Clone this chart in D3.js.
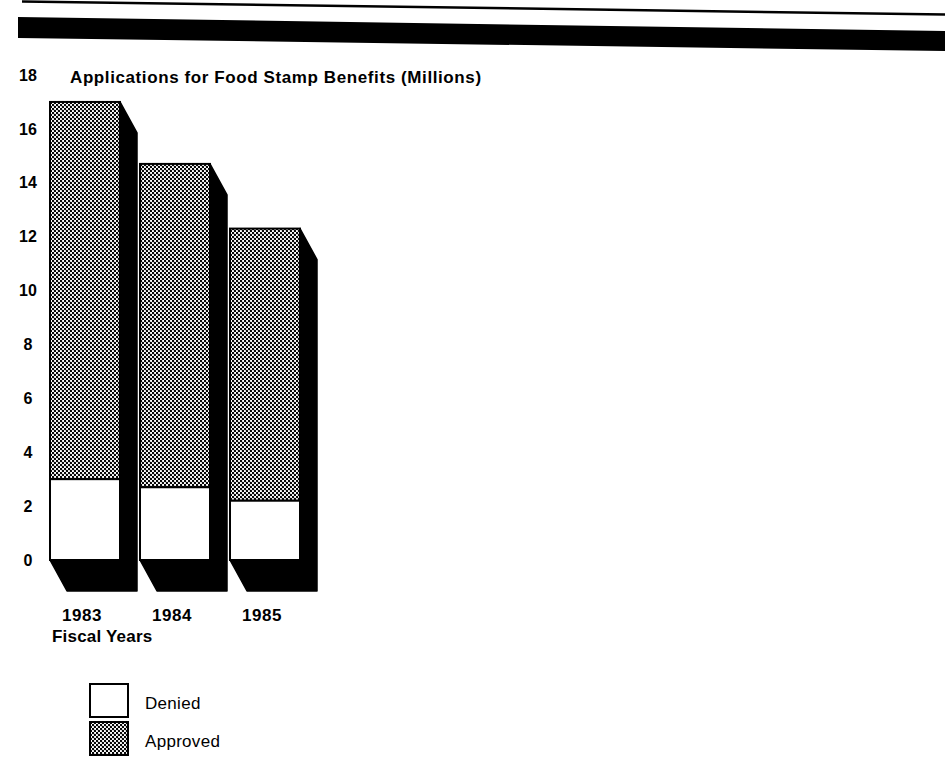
<!DOCTYPE html>
<html>
<head>
<meta charset="utf-8">
<script src="https://cdn.jsdelivr.net/npm/d3@7/dist/d3.min.js"></script>
<style>
  html, body { margin: 0; padding: 0; background: #fff; }
  svg { display: block; }
  text { font-family: "Liberation Sans", Arial, Helvetica, sans-serif; fill: #000; }
</style>
</head>
<body>
<svg id="chart" width="945" height="771"></svg>
<script>
// ---- data ----
const years = ["1983", "1984", "1985"];
const denied = [3.0, 2.7, 2.2];
const approved = [14.0, 12.0, 10.1];
const yTicks = [0, 2, 4, 6, 8, 10, 12, 14, 16, 18];
const seriesNames = ["Denied", "Approved"];
const title = "Applications for Food Stamp Benefits (Millions)";
const xTitle = "Fiscal Years";

// ---- layout ----
const svg = d3.select("#chart");
const base = 560;
const y = d3.scaleLinear().domain([0, 18]).range([base, 75]);
const x = d3.scaleBand().domain(years).range([50, 300]).paddingInner(20 / 90).paddingOuter(0);
const dx = 17, dy = 31;

// dot screen pattern
const defs = svg.append("defs");
const pat = defs.append("pattern").attr("id", "dots")
  .attr("width", 4).attr("height", 4).attr("patternUnits", "userSpaceOnUse");
pat.append("rect").attr("width", 4).attr("height", 4).attr("fill", "#fff");
pat.append("circle").attr("cx", 1).attr("cy", 1).attr("r", 1.2).attr("fill", "#000");
pat.append("circle").attr("cx", 3).attr("cy", 3).attr("r", 1.2).attr("fill", "#000");

// page decorations (scanned header rules)
svg.append("line").attr("x1", 22).attr("y1", 1.5).attr("x2", 945).attr("y2", 14.5)
  .attr("stroke", "#000").attr("stroke-width", 2.5);
svg.append("polygon").attr("points", "18,17 945,31 945,51 18,38").attr("fill", "#000");

// title
svg.append("text").attr("x", 70).attr("y", 83)
  .attr("font-size", 17).attr("font-weight", "bold").attr("letter-spacing", 0.6).text(title);

// y axis labels
const yAxis = d3.axisLeft(y).tickValues(yTicks).tickSize(0).tickPadding(0);
const gy = svg.append("g").attr("transform", "translate(28,0)").call(yAxis);
gy.select(".domain").remove();
gy.selectAll("text").attr("text-anchor", "middle")
  .attr("font-size", 16).attr("font-weight", "bold")
  .attr("font-family", "'Liberation Sans', Arial, sans-serif").attr("fill", "#000");

// bars
const data = years.map((yr, i) => ({ yr, d: denied[i], a: approved[i], t: denied[i] + approved[i] }));
const g = svg.append("g");
data.forEach(b => {
  const x0 = x(b.yr), x1 = x0 + x.bandwidth();
  const top = y(b.t);
  // side + bottom faces (black)
  g.append("polygon")
    .attr("points", [[x1, top], [x1 + dx, top + dy], [x1 + dx, base + dy], [x0 + dx, base + dy], [x0, base], [x1, base]].map(p => p.join(",")).join(" "))
    .attr("fill", "#000").attr("stroke", "#000").attr("stroke-width", 1.5).attr("stroke-linejoin", "round");
  // approved
  g.append("rect").attr("x", x0).attr("y", y(b.t)).attr("width", x.bandwidth())
    .attr("height", y(b.d) - y(b.t)).attr("fill", "url(#dots)").attr("stroke", "#000").attr("stroke-width", 2);
  // denied
  g.append("rect").attr("x", x0).attr("y", y(b.d)).attr("width", x.bandwidth())
    .attr("height", base - y(b.d)).attr("fill", "#fff").attr("stroke", "#000").attr("stroke-width", 2);
  // year label
  svg.append("text").attr("x", x0 + x.bandwidth() / 2 - 3).attr("y", 621)
    .attr("text-anchor", "middle").attr("font-size", 17).attr("font-weight", "bold")
    .attr("letter-spacing", 0.5).text(b.yr);
});

// x title
svg.append("text").attr("x", 52).attr("y", 642)
  .attr("font-size", 17).attr("font-weight", "bold").attr("letter-spacing", 0.2).text(xTitle);

// legend
const legY = [684, 722];
seriesNames.forEach((name, i) => {
  svg.append("rect").attr("x", 90).attr("y", legY[i]).attr("width", 38).attr("height", 33)
    .attr("fill", i === 0 ? "#fff" : "url(#dots)").attr("stroke", "#000").attr("stroke-width", 2);
  svg.append("text").attr("x", 145).attr("y", legY[i] + 25)
    .attr("font-size", 17).attr("letter-spacing", 0.3).text(name);
});
</script>
</body>
</html>
